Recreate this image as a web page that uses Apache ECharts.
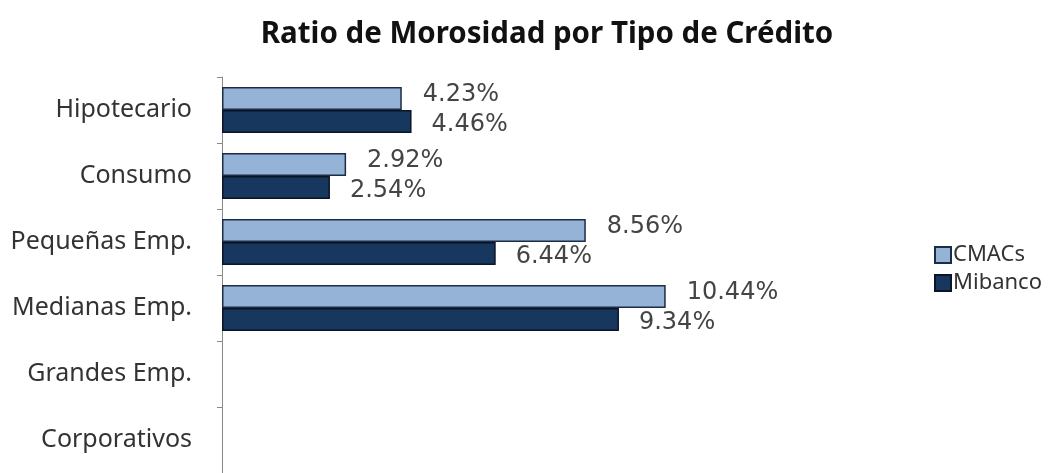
<!DOCTYPE html>
<html>
<head>
<meta charset="utf-8">
<script src="https://cdn.jsdelivr.net/npm/echarts@6/dist/echarts.min.js"></script>
<style>
  html, body { margin: 0; padding: 0; background: #fff; }
  #chart { width: 1059px; height: 473px; }
</style>
</head>
<body>
<div id="chart"></div>
<script>
// categories (top to bottom)
const categories = ['Hipotecario', 'Consumo', 'Pequeñas Emp.', 'Medianas Emp.', 'Grandes Emp.', 'Corporativos'];
// ratio de morosidad, %
const cmacs = [4.23, 2.92, 8.56, 10.44, null, null];
const mibanco = [4.46, 2.54, 6.44, 9.34, null, null];

const chart = echarts.init(document.getElementById('chart'));

const labelFmt = p => p.value.toFixed(2) + '%';

const option = {
    backgroundColor: '#fff',
    animation: false,
    title: {
        text: 'Ratio de Morosidad por Tipo de Crédito',
        left: 542,
        top: 15,
        textAlign: 'center',
        textStyle: {
            fontFamily: 'Noto Sans',
            fontWeight: 'bold',
            fontSize: 29.5,
            color: '#111'
        }
    },
    legend: {
        orient: 'vertical',
        left: 929,
        top: 239,
        icon: 'rect',
        itemWidth: 16,
        itemHeight: 16,
        itemGap: 6,
        textStyle: { fontFamily: 'Noto Sans', fontSize: 22, color: '#333', padding: [0, 0, 0, -3] },
        data: ['CMACs', 'Mibanco']
    },
    grid: {
        left: 222,
        top: 77,
        width: 510,
        height: 400
    },
    xAxis: {
        type: 'value',
        min: 0,
        max: 12,
        show: false
    },
    yAxis: {
        type: 'category',
        inverse: true,
        data: categories,
        axisLine: { lineStyle: { color: '#8a8a8a', width: 1 } },
        axisTick: { show: true, length: 5, lineStyle: { color: '#8a8a8a' } },
        axisLabel: {
            margin: 30,
            fontFamily: 'Noto Sans',
            fontSize: 25,
            color: '#333'
        }
    },
    series: [{
        name: 'CMACs',
        type: 'bar',
        barWidth: 23,
        barGap: '0%',
        itemStyle: { color: '#95b3d7', borderColor: '#1c2c44', borderWidth: 1.5 },
        label: {
            show: true,
            position: 'right',
            distance: 21,
            offset: [0, -4],
            formatter: labelFmt,
            fontFamily: 'DejaVu Sans',
            fontSize: 24,
            color: '#444'
        },
        data: cmacs
    }, {
        name: 'Mibanco',
        type: 'bar',
        barWidth: 23,
        itemStyle: { color: '#17375e', borderColor: '#0b1526', borderWidth: 1.5 },
        label: {
            show: true,
            position: 'right',
            distance: 20,
            offset: [0, 3],
            formatter: labelFmt,
            fontFamily: 'DejaVu Sans',
            fontSize: 24,
            color: '#444'
        },
        data: mibanco
    }]
};

chart.setOption(option);
</script>
</body>
</html>
